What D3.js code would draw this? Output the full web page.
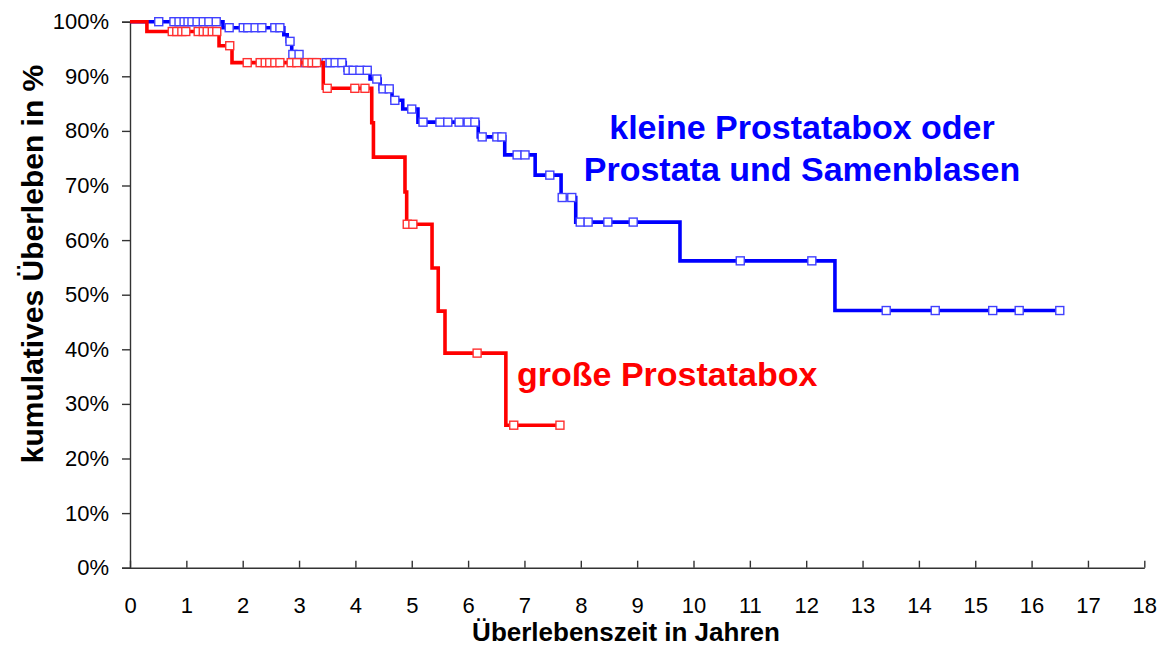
<!DOCTYPE html>
<html>
<head>
	<meta charset="utf-8">
	<title>Überleben</title>
	<script src="https://cdn.jsdelivr.net/npm/d3@7/dist/d3.min.js"></script>
	<style>
		body { margin: 0; background: #fff; }
		text { font-family: "Liberation Sans", Arial, sans-serif; }
	</style>
</head>
<body>
<script>

// kleine Prostatabox oder Prostata und Samenblasen (blau)
var blueEventTimes = [0, 1.65, 2.73, 2.79, 2.87, 3.03, 3.82, 4.26, 4.44, 4.65, 4.84, 5.11, 6.18, 6.65, 7.19, 7.65, 7.91, 9.76, 12.51];
var blueEventSurv  = [100, 98.9, 97.6, 96.4, 94.0, 92.5, 91.1, 89.5, 87.7, 85.6, 84.0, 81.6, 78.9, 75.6, 71.9, 67.8, 63.3, 56.2, 47.1];
var blueCensorTimes = [0.51, 0.78, 0.87, 0.96, 1.03, 1.10, 1.19, 1.30, 1.40, 1.53,
	1.76, 2.01, 2.09, 2.22, 2.34, 2.57, 2.66, 2.84, 2.89, 3.00,
	3.11, 3.27, 3.48, 3.55, 3.64, 3.76, 3.87, 3.96, 4.08, 4.21,
	4.38, 4.49, 4.60, 4.70, 5.00, 5.20, 5.50, 5.64, 5.84, 6.00, 6.12,
	6.25, 6.51, 6.60, 6.87, 7.01, 7.45, 7.67, 7.84,
	7.99, 8.13, 8.48, 8.93, 10.83, 12.10, 13.42, 14.29, 15.31, 15.78, 16.50];
var blueEnd = 16.50;

// große Prostatabox (rot)
var redEventTimes = [0, 0.30, 1.58, 1.81, 3.43, 4.29, 4.32, 4.88, 4.91, 5.36, 5.47, 5.59, 6.67];
var redEventSurv  = [100, 98.2, 95.6, 92.5, 87.8, 81.5, 75.2, 68.8, 62.9, 54.9, 47.0, 39.3, 26.1];
var redCensorTimes = [0.75, 0.83, 0.92, 0.99, 1.21, 1.30, 1.37, 1.46, 1.54, 1.77,
	2.08, 2.31, 2.40, 2.48, 2.57, 2.66, 2.86, 2.96, 3.14, 3.23, 3.31,
	3.50, 3.99, 4.17, 4.92, 5.02, 6.16, 6.81, 7.63];
var redEnd = 7.63;

var xTicks = d3.range(0, 19, 1);
var yTicks = d3.range(0, 101, 10);

var width = 1170, height = 653;

var svg = d3.select("body").append("svg")
	.attr("width", width)
	.attr("height", height);

var x = d3.scaleLinear().domain([0, 18]).range([130, 1144.3]);
var y = d3.scaleLinear().domain([0, 100]).range([567.7, 21.7]);

// y-Achse
var yAxis = d3.axisLeft(y)
	.tickValues(yTicks)
	.tickFormat(function(d){ return d + "%"; })
	.tickSize(8)
	.tickPadding(13);
var gy = svg.append("g")
	.attr("transform", "translate(" + x(0) + ",0)")
	.call(yAxis);
gy.selectAll("text").attr("font-size", 22).attr("fill", "#000");

// x-Achse, Striche nach oben
var xAxis = d3.axisBottom(x)
	.tickValues(xTicks)
	.tickSizeInner(-7)
	.tickSizeOuter(0)
	.tickPadding(30);
var gx = svg.append("g")
	.attr("transform", "translate(0," + y(0) + ")")
	.call(xAxis);
gx.selectAll("text").attr("font-size", 22).attr("fill", "#000");

svg.selectAll(".domain, .tick line").attr("stroke", "#333").attr("stroke-width", 1.4);

// Stufenfunktion
function survAt(times, surv, t) {
	var s = surv[0];
	for (var i = 0; i < times.length; i++) {
		if (times[i] <= t) s = surv[i];
	}
	return s;
}

function stepPoints(times, surv, end) {
	var pts = times.map(function(t, i){ return [t, surv[i]]; });
	pts.push([end, surv[surv.length - 1]]);
	return pts;
}

var line = d3.line()
	.x(function(d){ return x(d[0]); })
	.y(function(d){ return y(d[1]); })
	.curve(d3.curveStepAfter);

function drawCurve(times, surv, end, censor, color, boxStroke) {
	svg.append("path")
		.datum(stepPoints(times, surv, end))
		.attr("d", line)
		.attr("fill", "none")
		.attr("stroke", color)
		.attr("stroke-width", 3.6);

	var box = 8;
	svg.append("g").selectAll("rect")
		.data(censor)
		.enter()
		.append("rect")
		.attr("x", function(d){ return x(d) - box / 2; })
		.attr("y", function(d){ return y(survAt(times, surv, d)) - box / 2; })
		.attr("width", box)
		.attr("height", box)
		.attr("fill", "#fff")
		.attr("stroke", boxStroke)
		.attr("stroke-width", 1.4);
}

drawCurve(blueEventTimes, blueEventSurv, blueEnd, blueCensorTimes, "#0000ff", "#4040ff");
drawCurve(redEventTimes, redEventSurv, redEnd, redCensorTimes, "#ff0000", "#ff3030");

// Achsentitel
svg.append("text")
	.attr("x", 626)
	.attr("y", 641)
	.attr("text-anchor", "middle")
	.attr("font-size", 26)
	.attr("font-weight", "bold")
	.text("Überlebenszeit in Jahren");

svg.append("text")
	.attr("transform", "translate(43,264) rotate(-90)")
	.attr("text-anchor", "middle")
	.attr("font-size", 30)
	.attr("font-weight", "bold")
	.text("kumulatives Überleben in %");

// Beschriftungen
svg.append("text")
	.attr("x", 802).attr("y", 139)
	.attr("text-anchor", "middle")
	.attr("font-size", 34)
	.attr("font-weight", "bold")
	.attr("fill", "#0000ff")
	.text("kleine Prostatabox oder");
svg.append("text")
	.attr("x", 802).attr("y", 181)
	.attr("text-anchor", "middle")
	.attr("font-size", 34)
	.attr("font-weight", "bold")
	.attr("fill", "#0000ff")
	.text("Prostata und Samenblasen");

svg.append("text")
	.attr("x", 517).attr("y", 386)
	.attr("font-size", 34)
	.attr("font-weight", "bold")
	.attr("fill", "#ff0000")
	.text("große Prostatabox");

</script>
</body>
</html>
